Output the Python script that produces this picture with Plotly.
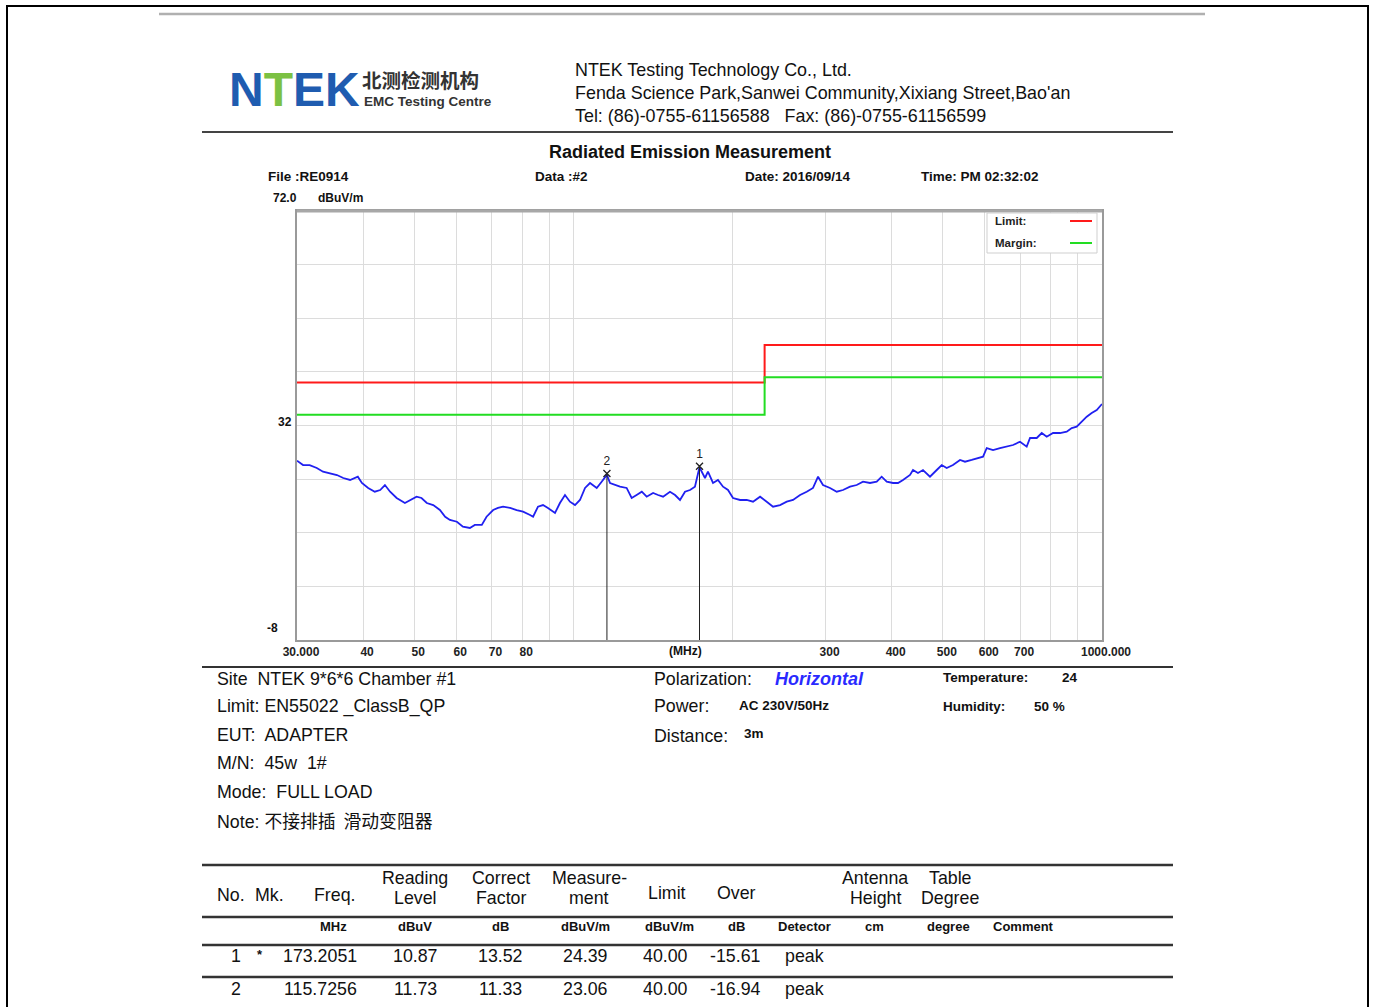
import plotly.graph_objects as go

W, H = 1375, 1007

# ---------------- data ----------------
trace_freq = [30.0, 30.8, 31.7, 32.7, 33.6, 34.6, 35.7, 36.7, 37.8, 39.1,
              39.8, 40.9, 42.1, 43.1, 44.0, 45.0, 46.3, 48.0, 49.1, 50.5,
              51.6, 52.8, 54.3, 55.9, 57.2, 58.4, 60.2, 61.8, 63.7, 65.1,
              67.1, 68.5, 70.5, 72.0, 73.6, 75.9, 78.1, 80.3, 82.8, 83.9,
              85.7, 87.6, 89.5, 92.3, 94.3, 96.4, 98.5, 100.7, 102.9, 105.2,
              107.5, 110.7, 113.1, 115.7, 117.3, 119.9, 122.5, 126.1, 128.9, 131.7,
              134.7, 137.6, 141.5, 144.6, 147.8, 152.3, 155.7, 159.1, 162.6, 166.2,
              169.8, 173.2, 177.4, 179.7, 183.7, 187.7, 191.9, 196.1, 200.4, 206.7,
              212.7, 218.7, 225.5, 232.1, 238.6, 246.0, 253.3, 260.3, 268.4, 276.3,
              284.0, 290.3, 296.6, 305.8, 314.9, 323.6, 333.7, 343.5, 353.1, 364.0,
              374.8, 383.0, 391.5, 402.4, 411.2, 420.3, 433.3, 439.0, 448.6, 458.5,
              472.7, 486.8, 497.5, 508.4, 522.5, 538.8, 550.6, 566.9, 582.7, 595.6,
              605.3, 622.1, 641.3, 660.3, 678.7, 699.7, 720.4, 730.9, 752.6, 769.1,
              786.0, 807.9, 832.8, 857.6, 876.5, 895.6, 915.4, 935.7, 956.1, 977.3,
              1000.0]
trace_level = [25.44, 24.63, 24.6, 24.07, 23.38, 23.14, 22.77, 22.21, 21.84, 22.45,
               21.28, 20.35, 19.65, 19.97, 20.9, 19.65, 18.48, 17.55, 18.11, 18.72,
               18.48, 17.55, 17.17, 16.24, 14.99, 14.38, 14.06, 13.13, 12.89, 13.45,
               13.45, 14.99, 16.24, 16.62, 16.86, 16.62, 16.24, 15.93, 15.31, 14.99,
               16.86, 17.17, 16.62, 15.68, 17.55, 19.04, 17.79, 17.17, 18.11, 20.35,
               21.28, 20.35, 21.52, 22.8, 21.28, 20.9, 20.59, 20.35, 18.48, 19.04,
               19.65, 18.72, 19.41, 19.04, 18.72, 19.65, 19.04, 18.11, 19.65, 19.97,
               20.59, 24.2, 22.21, 23.38, 21.28, 21.84, 20.59, 19.97, 18.48, 18.11,
               18.11, 17.79, 18.72, 17.79, 16.86, 17.17, 17.79, 18.11, 19.04, 19.65,
               20.35, 22.45, 20.9, 20.35, 19.65, 19.97, 20.59, 20.9, 21.52, 21.28,
               21.52, 22.45, 21.52, 21.28, 21.28, 21.84, 22.77, 23.70, 23.14, 23.70,
               22.45, 23.7, 24.63, 24.07, 24.63, 25.57, 25.25, 25.57, 25.94, 26.18,
               27.80, 27.43, 27.80, 28.05, 28.36, 28.98, 28.05, 29.67, 29.67, 30.6,
               29.91, 30.6, 30.6, 30.84, 31.53, 31.78, 32.71, 33.64, 34.33, 34.89,
               36.01]

limit_freq = [30, 230, 230, 1000]
limit_level = [40, 40, 47, 47]
margin_level = [34, 34, 41, 41]

marker_no = ["1", "2"]
marker_mk = ["*", ""]
marker_freq = [173.2051, 115.7256]
marker_reading = [10.87, 11.73]
marker_correct = [13.52, 11.33]
marker_measure = [24.39, 23.06]
marker_limit = [40.00, 40.00]
marker_over = [-15.61, -16.94]
marker_detector = ["peak", "peak"]

x_gridvals = [30, 40, 50, 60, 70, 80, 90, 100, 200, 300, 400, 500, 600, 700, 800, 900, 1000]
x_ticktext = ["30.000", "40", "50", "60", "70", "80", "", "", "", "300", "400", "500",
              "600", "700", "", "", "1000.000"]
y_gridvals = [-8, 2, 12, 22, 32, 42, 52, 62, 72]
y_range = [-8, 72]

# ---------------- helpers ----------------
SANS = "Liberation Sans Narrow, Arial Narrow, Liberation Sans, Arial"
REG = "Liberation Sans, Arial"
CJK = "Noto Sans CJK SC"
BODY = 17.8
ann = []
shapes = []


def T(x, y, s, size=BODY, anchor="left", bold=False, color="#111111", family=REG, italic=False):
    if bold:
        s = f"<b>{s}</b>"
    if italic:
        s = f"<i>{s}</i>"
    ann.append(dict(x=x / W, y=1 - y / H, xref="paper", yref="paper", text=s,
                    showarrow=False, xanchor=anchor, yanchor="middle", borderpad=0,
                    font=dict(size=size, color=color, family=family)))


def L(x0, y0, x1, y1, color="#333333", width=2):
    shapes.append(dict(type="line", xref="paper", yref="paper",
                       x0=x0 / W, x1=x1 / W, y0=1 - y0 / H, y1=1 - y1 / H,
                       line=dict(color=color, width=width)))


# ---------------- figure ----------------
fig = go.Figure()

fig.add_trace(go.Scatter(x=limit_freq, y=limit_level, mode="lines",
                         line=dict(color="#ff1a1a", width=2), showlegend=False, hoverinfo="skip"))
fig.add_trace(go.Scatter(x=limit_freq, y=margin_level, mode="lines",
                         line=dict(color="#22dd22", width=2), showlegend=False, hoverinfo="skip"))
fig.add_trace(go.Scatter(x=trace_freq, y=trace_level, mode="lines",
                         line=dict(color="#2020f0", width=1.8), showlegend=False))
for f, m in zip(marker_freq, marker_measure):
    fig.add_trace(go.Scatter(x=[f, f], y=[m, y_range[0]], mode="lines",
                             line=dict(color="#222222", width=1), showlegend=False, hoverinfo="skip"))
fig.add_trace(go.Scatter(x=marker_freq, y=marker_measure, mode="markers+text",
                         text=marker_no, textposition="top center",
                         textfont=dict(size=12, color="#222222", family=SANS),
                         marker=dict(symbol="x-thin", size=7, line=dict(color="#222222", width=1.3)),
                         showlegend=False))

x0p, x1p = 297 / W, 1102 / W
y0p, y1p = 1 - 640 / H, 1 - 211 / H

fig.update_xaxes(type="log", range=[1.4771, 3.0], domain=[x0p, x1p], automargin=False,
                 tickvals=x_gridvals, ticktext=[f"<b>{t}</b>" if t else "" for t in x_ticktext],
                 showgrid=True, ticklabelshift=4,
                 gridcolor="#dcdcdc", gridwidth=1, showline=True, mirror=True,
                 linecolor="#9a9a9a", linewidth=2, ticks="", zeroline=False,
                 tickfont=dict(size=12, color="#222222", family=SANS), tickangle=0)
fig.update_yaxes(range=y_range, domain=[y0p, y1p], tickvals=y_gridvals, automargin=False,
                 showticklabels=False, showgrid=True, gridcolor="#dcdcdc", gridwidth=1,
                 showline=True, mirror=True, linecolor="#9a9a9a", linewidth=2,
                 ticks="", zeroline=False)

# page frame and rules
shapes.append(dict(type="rect", xref="paper", yref="paper", x0=7 / W, x1=1368 / W,
                   y0=-0.02, y1=1 - 6 / H, line=dict(color="#000000", width=2)))
L(159, 14, 1205, 14, "#b0b0b0", 2.5)
L(202, 132, 1173, 132, "#444444", 2)
L(297, 211, 1102, 211, "#a8a8a8", 3)
L(202, 667, 1173, 667, "#333333", 2)
for yy in [865, 917, 945, 977]:
    L(202, yy, 1173, yy, "#333333", 2.5)

# legend box
shapes.append(dict(type="rect", xref="paper", yref="paper", x0=987 / W, x1=1097 / W,
                   y0=1 - 253 / H, y1=1 - 213 / H, fillcolor="#ffffff",
                   line=dict(color="#cfcfcf", width=1)))
L(1070, 221, 1092, 221, "#ff1a1a", 2)
L(1070, 243, 1092, 243, "#22dd22", 2)
T(994, 221, "Limit:", 11.5, bold=True, family=SANS, color="#222")
T(994, 243, "Margin:", 11.5, bold=True, family=SANS, color="#222")

# logo
T(228, 89, "N<span style='color:#7cc143'>T</span>EK", 48, bold=True, color="#1f5cb0", family="Liberation Sans, Arial")
T(361, 79, "北测检测机构", 19.5, bold=True, color="#333333", family=CJK)
T(363, 101, "EMC Testing Centre", 13.5, bold=True, color="#333333", family=REG)

# company
T(574, 70, "NTEK Testing Technology Co., Ltd.", 17.9, color="#111")
T(574, 93, "Fenda Science Park,Sanwei Community,Xixiang Street,Bao'an", 17.9, color="#111")
T(574, 116, "Tel: (86)-0755-61156588   Fax: (86)-0755-61156599", 17.9, color="#111")

# chart headers
T(690, 152, "Radiated Emission Measurement", 18, anchor="center", bold=True, color="#111")
T(267, 176, "File :RE0914", 13.5, bold=True, family=SANS)
T(534, 176, "Data :#2", 13.5, bold=True, family=SANS)
T(744, 176, "Date: 2016/09/14", 13.5, bold=True, family=SANS)
T(920, 176, "Time: PM 02:32:02", 13.5, bold=True, family=SANS)
T(272, 198, "72.0", 12, bold=True, family=SANS)
T(317, 198, "dBuV/m", 12, bold=True, family=SANS)
T(293, 422, "32", 12, anchor="right", bold=True, family=SANS)
T(279, 628, "-8", 12, anchor="right", bold=True, family=SANS)
T(685, 651, "(MHz)", 12, anchor="center", bold=True, family=SANS)

# info block
T(216, 679, "Site  NTEK 9*6*6 Chamber #1")
T(216, 706, "Limit: EN55022 _ClassB_QP")
T(216, 735, "EUT:  ADAPTER")
T(216, 763, "M/N:  45w  1#")
T(216, 792, "Mode:  FULL LOAD")
T(216, 820, "Note: <span style='font-family:Noto Sans CJK SC'>不接排插  滑动变阻器</span>")
T(653, 679, "Polarization:")
T(774, 679, "Horizontal", 18, bold=True, italic=True, color="#2a2aff")
T(653, 706, "Power:")
T(738, 705, "AC 230V/50Hz", 13.5, bold=True, family=SANS)
T(653, 736, "Distance:")
T(743, 733, "3m", 13.5, bold=True, family=SANS)
T(942, 677, "Temperature:", 13.5, bold=True, family=SANS)
T(1061, 677, "24", 13.5, bold=True, family=SANS)
T(942, 706, "Humidity:", 13.5, bold=True, family=SANS)
T(1033, 706, "50 %", 13.5, bold=True, family=SANS)

# table header
T(216, 895, "No.")
T(254, 895, "Mk.")
T(335, 895, "Freq.", anchor="center")
two_line = [(415, "Reading", "Level"), (501, "Correct", "Factor"), (589, "Measure-", "ment"),
            (875, "Antenna", "Height"), (950, "Table", "Degree")]
for hx, h1, h2 in two_line:
    T(hx, 878, h1, anchor="center")
    T(hx, 898, h2, anchor="center")
T(667, 893, "Limit", anchor="center")
T(736, 893, "Over", anchor="center")
units = [(333, "MHz"), (415, "dBuV"), (500, "dB"), (585, "dBuV/m"), (669, "dBuV/m"),
         (736, "dB"), (804, "Detector"), (874, "cm"), (948, "degree"), (1023, "Comment")]
for ux, us in units:
    T(ux, 926, us, 13, anchor="center", bold=True, family=SANS)

row_y = [956, 989]
for i in range(len(marker_no)):
    y = row_y[i]
    T(236, y, marker_no[i], anchor="center")
    if marker_mk[i]:
        T(260, y - 2, marker_mk[i], 13, anchor="center", bold=True)
    T(320, y, f"{marker_freq[i]:.4f}", anchor="center")
    T(415, y, f"{marker_reading[i]:.2f}", anchor="center")
    T(500, y, f"{marker_correct[i]:.2f}", anchor="center")
    T(585, y, f"{marker_measure[i]:.2f}", anchor="center")
    T(665, y, f"{marker_limit[i]:.2f}", anchor="center")
    T(735, y, f"{marker_over[i]:.2f}", anchor="center")
    T(804, y, marker_detector[i], anchor="center")

fig.update_layout(width=W, height=H, margin=dict(l=0, r=0, t=0, b=0, pad=0, autoexpand=False),
                  paper_bgcolor="#ffffff", plot_bgcolor="#ffffff",
                  annotations=ann, shapes=shapes, showlegend=False,
                  font=dict(family=REG, color="#111111"))

fig.write_html("out.html", config={"displayModeBar": False},
               post_script="document.body.style.margin='0';document.body.style.overflow='hidden';")
